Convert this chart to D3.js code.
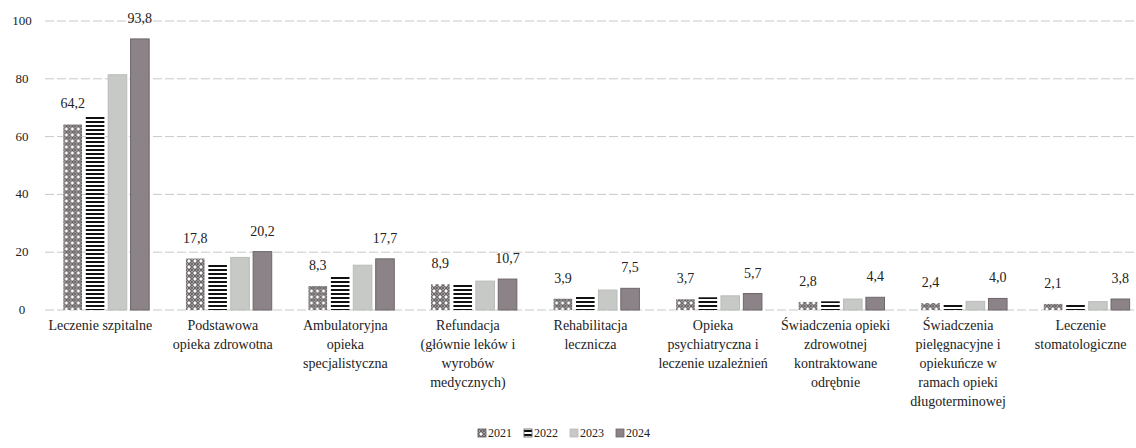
<!DOCTYPE html>
<head>
  <meta charset="utf-8" />
  <script src="https://d3js.org/d3.v7.min.js"></script>
  <style>
    body { margin: 0; background: #fff; }
    text { font-family: "Liberation Serif", "DejaVu Serif", serif; fill: #222; }
  </style>
</head>
<body>
  <script>
    var width = 1136,
      height = 448;

    // dane
    var categories = [
      "Leczenie szpitalne",
      "Podstawowa\nopieka zdrowotna",
      "Ambulatoryjna\nopieka\nspecjalistyczna",
      "Refundacja\n(głównie leków i\nwyrobów\nmedycznych)",
      "Rehabilitacja\nlecznicza",
      "Opieka\npsychiatryczna i\nleczenie uzależnień",
      "Świadczenia opieki\nzdrowotnej\nkontraktowane\nodrębnie",
      "Świadczenia\npielęgnacyjne i\nopiekuńcze w\nramach opieki\ndługoterminowej",
      "Leczenie\nstomatologiczne"
    ];
    var years = ["2021", "2022", "2023", "2024"];
    var v2021 = [64.2, 17.8, 8.3, 8.9, 3.9, 3.7, 2.8, 2.4, 2.1];
    var v2022 = [67.0, 15.8, 11.7, 9.2, 4.5, 4.4, 3.0, 1.8, 2.1];
    var v2023 = [81.4, 18.2, 15.5, 10.0, 6.9, 4.9, 3.8, 3.0, 2.9];
    var v2024 = [93.8, 20.2, 17.7, 10.7, 7.5, 5.7, 4.4, 4.0, 3.8];
    var yTicks = [0, 20, 40, 60, 80, 100];
    var labelled = ["2021", "2024"]; // tylko te serie maja etykiety

    var series = { "2021": v2021, "2022": v2022, "2023": v2023, "2024": v2024 };

    var svg = d3.select("body").append("svg")
      .attr("width", width)
      .attr("height", height);

    // wzory wypelnien
    var defs = svg.append("defs");
    var p1 = defs.append("pattern").attr("id", "p2021")
      .attr("patternUnits", "userSpaceOnUse").attr("width", 6).attr("height", 6);
    p1.append("rect").attr("width", 6).attr("height", 6).attr("fill", "#fff");
    p1.append("circle").attr("cx", 3).attr("cy", 3).attr("r", 2.3)
      .attr("fill", "none").attr("stroke", "#5a5456").attr("stroke-width", 1.3);
    p1.append("circle").attr("cx", 0).attr("cy", 0).attr("r", 1.2).attr("fill", "#6d6668");
    p1.append("circle").attr("cx", 6).attr("cy", 0).attr("r", 1.2).attr("fill", "#6d6668");
    p1.append("circle").attr("cx", 0).attr("cy", 6).attr("r", 1.2).attr("fill", "#6d6668");
    p1.append("circle").attr("cx", 6).attr("cy", 6).attr("r", 1.2).attr("fill", "#6d6668");

    var p2 = defs.append("pattern").attr("id", "p2022")
      .attr("patternUnits", "userSpaceOnUse").attr("width", 4).attr("height", 4);
    p2.append("rect").attr("width", 4).attr("height", 4).attr("fill", "#fff");
    p2.append("rect").attr("y", 1).attr("width", 4).attr("height", 2).attr("fill", "#111");

    var fills = {
      "2021": "url(#p2021)",
      "2022": "url(#p2022)",
      "2023": "#c6c9c5",
      "2024": "#8b8387"
    };
    var strokes = { "2021": "none", "2022": "none", "2023": "#b9bcb8", "2024": "#6e6669" };

    var x0 = d3.scaleBand()
      .domain(d3.range(categories.length))
      .range([45, 1148])
      .paddingInner(0.3)
      .paddingOuter(0.15);

    var x1 = d3.scaleBand()
      .domain(years)
      .range([0, x0.bandwidth()])
      .paddingInner(0.17);

    var y = d3.scaleLinear().domain([0, 100]).range([310, 21]);

    // siatka
    svg.append("g").selectAll("line")
      .data(yTicks)
      .join("line")
      .attr("x1", 45)
      .attr("x2", width)
      .attr("y1", d => y(d))
      .attr("y2", d => y(d))
      .attr("stroke", "#c9c9c9")
      .attr("stroke-width", 1)
      .attr("stroke-dasharray", "9,3");

    svg.append("g").selectAll("text")
      .data(yTicks)
      .join("text")
      .attr("x", 22)
      .attr("y", d => y(d) + 4)
      .attr("text-anchor", "middle")
      .style("font-size", "13px")
      .text(d => d);

    // slupki
    var groups = svg.append("g").selectAll("g")
      .data(categories.map((c, i) => i))
      .join("g")
      .attr("transform", d => "translate(" + x0(d) + ",0)");

    groups.selectAll("rect")
      .data(i => years.map(yr => ({ year: yr, value: series[yr][i] })))
      .join("rect")
      .attr("x", d => x1(d.year))
      .attr("y", d => y(d.value))
      .attr("width", x1.bandwidth())
      .attr("height", d => y(0) - y(d.value))
      .attr("fill", d => fills[d.year])
      .attr("stroke", d => strokes[d.year])
      .attr("stroke-width", 1);

    groups.selectAll("text.val")
      .data(i => labelled.map(yr => ({ year: yr, value: series[yr][i] })))
      .join("text")
      .attr("class", "val")
      .attr("x", d => x1(d.year) + x1.bandwidth() / 2)
      .attr("y", d => y(d.value) - 16)
      .attr("text-anchor", "middle")
      .style("font-size", "14px")
      .text(d => d3.format(".1f")(d.value).replace(".", ","));

    // etykiety kategorii
    var cat = svg.append("g").selectAll("text")
      .data(categories)
      .join("text")
      .attr("x", (d, i) => x0(i) + x0.bandwidth() / 2 - 6)
      .attr("y", 330)
      .attr("text-anchor", "middle")
      .style("font-size", "14px");
    cat.selectAll("tspan")
      .data(d => d.split("\n"))
      .join("tspan")
      .attr("x", function () { return d3.select(this.parentNode).attr("x"); })
      .attr("dy", (d, i) => i === 0 ? 0 : 19)
      .text(d => d);

    // legenda
    var legend = svg.append("g").attr("transform", "translate(478,437)");
    var item = legend.selectAll("g")
      .data(years)
      .join("g")
      .attr("transform", (d, i) => "translate(" + i * 46 + ",0)");
    item.append("rect")
      .attr("x", 0)
      .attr("y", -8)
      .attr("width", 8)
      .attr("height", 8)
      .attr("fill", d => fills[d])
      .attr("stroke", d => strokes[d] === "none" ? "#555" : strokes[d])
      .attr("stroke-width", 0.8);
    item.append("text")
      .attr("x", 10)
      .attr("y", 0)
      .style("font-size", "12px")
      .text(d => d);
  </script>
</body>
